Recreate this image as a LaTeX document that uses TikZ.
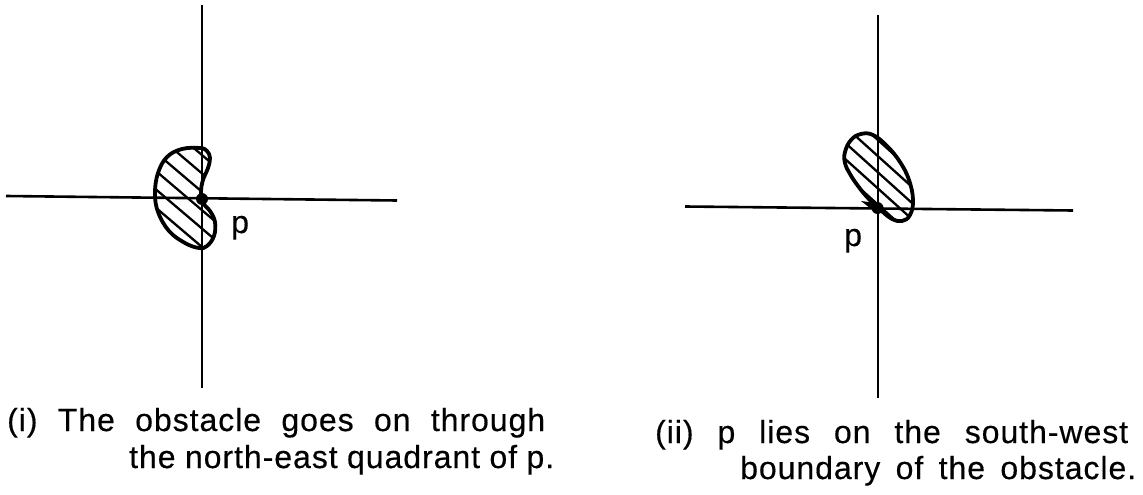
\documentclass[tikz,border=0pt]{standalone}
\usepackage{fontspec}
\setmainfont{Liberation Sans}[LetterSpace=3,FakeBold=0.4]
\usetikzlibrary{calc}
\begin{document}
\begin{tikzpicture}[x=1pt,y=-1pt,
  axis/.style={line width=2.6pt},
  outline/.style={line width=3.8pt},
  hatch/.style={line width=2.3pt},
  pdot/.style={circle,fill,inner sep=0pt,minimum size=12pt},
  lbl/.style={anchor=base west,inner sep=0pt,font=\fontsize{32}{38}\selectfont},
  captxt/.style={anchor=base west,inner sep=0pt,font=\fontsize{32}{38}\selectfont}]
\useasboundingbox (0,0) rectangle (1143,495);
% ---------- left diagram ----------
\coordinate (LW) at (6,196);
\coordinate (LE) at (397,200.5);
\coordinate (LN) at (202,5);
\coordinate (LS) at (202,388);
\draw[axis] (LW) -- (LE);
\draw[axis] (LN) -- (LS);
\path[save path=\beanL] plot[smooth cycle,tension=0.65] coordinates {
  (200,148) (207,151) (210,158) (208,168) (203,180) (201,192) (203,203)
  (210,211) (215,222) (214,236) (207,246) (199,248) (185,243) (169,231)
  (158,212) (155,193) (158,173) (167,157) (182,149)};
\begin{scope}
  \clip[use path=\beanL];
  \foreach \k in {-6,...,5}
    \draw[hatch] ($(190,200)+\k*(9.07,-10.67)$) +(-120,-102) -- +(120,102);
\end{scope}
\draw[outline,use path=\beanL];
\node[pdot] (Lp) at (202,199) {};
\node[lbl] (Lplabel) at (231,233) {p};
% ---------- right diagram ----------
\coordinate (RW) at (685,206.5);
\coordinate (RE) at (1073,210.5);
\coordinate (RN) at (878,15);
\coordinate (RS) at (878,398);
\draw[axis] (RW) -- (RE);
\draw[axis] (RN) -- (RS);
\path[save path=\blobR] plot[smooth cycle,tension=0.7] coordinates {
  (845,152) (851,140) (861,134) (873,135) (887,146) (900,162) (909,180)
  (913,200) (910,215) (902,221) (892,219) (884,213) (877,207) (867,197)
  (858,186) (850,174) (845,163)};
\begin{scope}
  \clip[use path=\blobR];
  \foreach \k in {-4,...,4}
    \draw[hatch] ($(882,176)+\k*(8.03,-8.92)$) +(-120,-108) -- +(120,108);
\end{scope}
\draw[outline,use path=\blobR];
\fill (876,203) -- (861,201) -- (875,212) -- cycle;
\node[pdot] (Rp) at (877.5,208) {};
\node[lbl] (Rplabel) at (844,246) {p};
% ---------- captions ----------
\node[captxt] (capL1) at (7,431) {\makebox[538pt][s]{(i) The obstacle goes on through}};
\node[captxt] (capL2) at (129,468) {\makebox[425pt][s]{the north-east quadrant of p.}};
\node[captxt] (capR1) at (655,443) {\makebox[473pt][s]{(ii) p lies on the south-west}};
\node[captxt] (capR2) at (740,479) {\makebox[396pt][s]{boundary of the obstacle.}};
\end{tikzpicture}
\end{document}
